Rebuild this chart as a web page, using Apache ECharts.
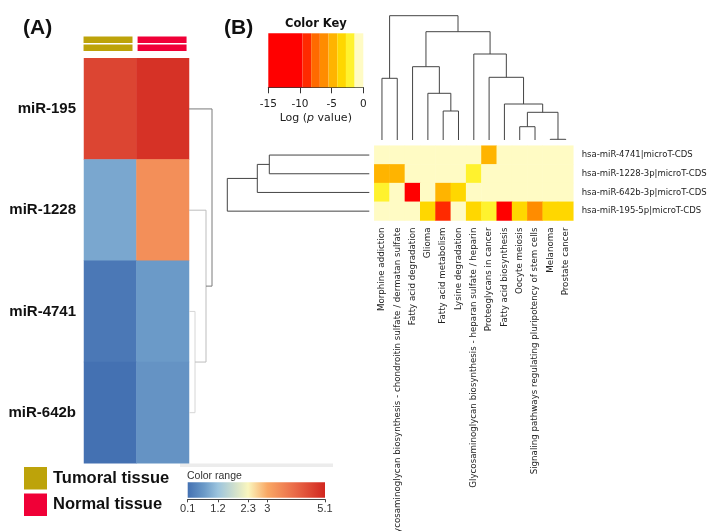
<!DOCTYPE html>
<html><head><meta charset="utf-8">
<script src="https://cdn.jsdelivr.net/npm/echarts@6/dist/echarts.min.js"></script>
<style>html,body{margin:0;padding:0;background:#fff}#c{width:721px;height:531px}</style>
</head><body><div id="c"></div>
<script>
// ================= Panel A data =================
const tissues = ['Tumoral tissue', 'Normal tissue'];
const mirnasA = ['miR-195', 'miR-1228', 'miR-4741', 'miR-642b'];
const tumoralValues = [4.6, 0.85, 0.2, 0.1];
const normalValues = [4.9, 3.4, 0.7, 0.6];
// hclust-style merges: [childA, childB, height]; negative = leaf (1-based), positive = earlier merge
const rowMergeA = [[-3, -4, 0.6], [-2, 1, 1.7], [-1, 2, 2.3]];
const colorRangeMin = 0.1;
const colorRangeMax = 5.1;
const colorRangeTicks = [0.1, 1.2, 2.3, 3, 5.1];

// ================= Panel B data =================
const pathways = [
  'Morphine addiction',
  'Glycosaminoglycan biosynthesis - chondroitin sulfate / dermatan sulfate',
  'Fatty acid degradation',
  'Glioma',
  'Fatty acid metabolism',
  'Lysine degradation',
  'Glycosaminoglycan biosynthesis - heparan sulfate / heparin',
  'Proteoglycans in cancer',
  'Fatty acid biosynthesis',
  'Oocyte meiosis',
  'Signaling pathways regulating pluripotency of stem cells',
  'Melanoma',
  'Prostate cancer'
];
const mirnasB = ['hsa-miR-4741|microT-CDS', 'hsa-miR-1228-3p|microT-CDS', 'hsa-miR-642b-3p|microT-CDS', 'hsa-miR-195-5p|microT-CDS'];
const logP_4741 = [0, 0, 0, 0, 0, 0, 0, -4.8, 0, 0, 0, 0, 0];
const logP_1228 = [-4.9, -4.7, 0, 0, 0, 0, -2.1, 0, 0, 0, 0, 0, 0];
const logP_642b = [-2.2, 0, -11.5, 0, -4.9, -3.5, 0, 0, 0, 0, 0, 0, 0];
const logP_195 = [0, 0, 0, -3.3, -8.9, 0, -3.6, -2.3, -12.8, -3.4, -6.3, -3.2, -3.1];
const rowMergeB = [[-1, -2, 100], [1, -3, 112], [2, -4, 142]];
const colMergeB = [
  [-12, -13, 0.7], [-10, -11, 13.3], [2, 1, 27.7], [-5, -6, 29], [-9, 3, 36],
  [-4, 4, 46.7], [-8, 5, 62.7], [-1, -2, 61.7], [-3, 6, 73.3], [-7, 7, 86],
  [9, 10, 108.3], [8, 11, 124.3]
];
const keyBreaks = [-15, -9.6, -8.23, -6.86, -5.49, -4.11, -2.74, -1.37, 0];
const keyTicks = [-15, -10, -5, 0];

// ================= styles =================
const keyColors = ['#FF0000', '#FF2A00', '#FF6A00', '#FF8C00', '#FFB400', '#FFD700', '#FFF22E', '#FFFBC4'];
const rangeStops = [[0.1, '#4471B2'], [0.7, '#6B9AC8'], [1.2, '#9CC4DE'], [2.3, '#FAF6BE'], [3.0, '#F9A865'], [4.0, '#EA6A48'], [5.1, '#D1261F']];
const tissueColors = ['#BDA30A', '#F00037'];
const fontA = 'Liberation Sans';
const fontB = 'DejaVu Sans';

function hex2rgb(h) { return [parseInt(h.substr(1, 2), 16), parseInt(h.substr(3, 2), 16), parseInt(h.substr(5, 2), 16)]; }
function colorAt(v) {
  for (let i = 0; i < rangeStops.length - 1; i++) {
    const [v0, c0] = rangeStops[i], [v1, c1] = rangeStops[i + 1];
    if (v <= v1 || i === rangeStops.length - 2) {
      const t = Math.max(0, Math.min(1, (v - v0) / (v1 - v0)));
      const a = hex2rgb(c0), b = hex2rgb(c1);
      return 'rgb(' + a.map((x, k) => Math.round(x + (b[k] - x) * t)).join(',') + ')';
    }
  }
}
const sampled = [];
for (let i = 0; i <= 50; i++) sampled.push(colorAt(colorRangeMin + (colorRangeMax - colorRangeMin) * i / 50));
const gradStops = rangeStops.map(([v, c]) => ({ offset: (v - colorRangeMin) / (colorRangeMax - colorRangeMin), color: c }));

function dendroLayout(merges) {
  const nodes = [];
  const get = id => id < 0 ? { pos: -id - 1, h: 0 } : nodes[id - 1];
  merges.forEach(([a, b, h]) => {
    const A = get(a), B = get(b);
    nodes.push({ pos: (A.pos + B.pos) / 2, h: h, a: A, b: B });
  });
  return nodes;
}
function dendroRender(nodes, orient, colorFn) {
  return function (params, api) {
    const k = api.value(0);
    const n = nodes[k];
    const pt = (pos, h) => orient === 'col' ? api.coord([pos, h]) : api.coord([h, pos]);
    return {
      type: 'polyline',
      shape: { points: [pt(n.a.pos, n.a.h), pt(n.a.pos, n.h), pt(n.b.pos, n.h), pt(n.b.pos, n.b.h)] },
      style: { stroke: colorFn(k, nodes.length), lineWidth: 1, fill: null }
    };
  };
}
const nodesA = dendroLayout(rowMergeA);
const nodesBr = dendroLayout(rowMergeB);
const nodesBc = dendroLayout(colMergeB);

// heatmap data
const heatA = [];
mirnasA.forEach((m, r) => { heatA.push([0, r, tumoralValues[r]]); heatA.push([1, r, normalValues[r]]); });
const heatB = [];
[logP_4741, logP_1228, logP_642b, logP_195].forEach((row, r) => row.forEach((v, c) => heatB.push([c, r, v])));
const keyPieces = [];
for (let i = 0; i < keyBreaks.length - 1; i++) keyPieces.push([keyBreaks[i], keyBreaks[i + 1], i]);
const vmPieces = keyPieces.map(([lo, hi, i]) => i === keyPieces.length - 1 ? { gte: lo, lte: hi, color: keyColors[i] } : { gte: lo, lt: hi, color: keyColors[i] });

const hidden = { show: false };
const G = (o) => Object.assign({ outerBoundsMode: 'none', containLabel: false }, o);
const chart = echarts.init(document.getElementById('c'), null, { renderer: 'canvas' });
chart.setOption({
  backgroundColor: '#fff',
  animation: false,
  title: [
    { text: '(A)', left: 23, top: 18, padding: 0, textStyle: { fontFamily: fontA, fontWeight: 'bold', fontSize: 21, color: '#111' } },
    { text: '(B)', left: 224, top: 18, padding: 0, textStyle: { fontFamily: fontA, fontWeight: 'bold', fontSize: 21, color: '#111' } },
    { text: 'Color Key', left: 285, top: 18, padding: 0, textStyle: { fontFamily: fontB, fontWeight: 'bold', fontSize: 11.5, color: '#111' } },
    { text: 'Color range', left: 187, top: 470.5, padding: 0, textStyle: { fontFamily: fontA, fontWeight: 'normal', fontSize: 10.5, color: '#333' } }
  ],
  legend: {
    data: tissues, icon: 'rect', orient: 'vertical', left: 24, top: 467, padding: 0,
    itemWidth: 23, itemHeight: 22.5, itemGap: 4, selectedMode: false,
    textStyle: { fontFamily: fontA, fontWeight: 'bold', fontSize: 16.5, color: '#111', padding: [0, 0, 0, 1] }
  },
  graphic: [{ type: 'rect', shape: { x: 180, y: 463.5, width: 153, height: 3.5 }, style: { fill: '#ececec' }, silent: true }],
  visualMap: [
    { type: 'continuous', show: false, seriesIndex: 0, dimension: 2, min: colorRangeMin, max: colorRangeMax, inRange: { color: sampled } },
    { type: 'piecewise', show: false, seriesIndex: 5, dimension: 2, pieces: vmPieces }
  ],
  grid: [
    G({ left: 84, top: 58.3, width: 105, height: 405 }),          // 0 heatmap A
    G({ left: 81, top: 35.7, width: 108.1, height: 16 }),         // 1 tissue bars
    G({ left: 189, top: 58.3, width: 25, height: 405 }),          // 2 dendro A
    G({ left: 187.7, top: 482.3, width: 137.3, height: 17 }),     // 3 color range
    G({ left: 374.3, top: 145.7, width: 199, height: 74.8 }),     // 4 heatmap B
    G({ left: 227.3, top: 145.7, width: 142, height: 74.8 }),     // 5 row dendro B
    G({ left: 374.3, top: 15.7, width: 199, height: 124.3 }),     // 6 col dendro B
    G({ left: 268.3, top: 33.3, width: 95, height: 54 })          // 7 color key B
  ],
  xAxis: [
    { gridIndex: 0, type: 'category', data: tissues, show: false },
    { gridIndex: 1, type: 'category', data: [0, 1], show: false },
    { gridIndex: 2, type: 'value', min: 0, max: 2.5, show: false },
    { gridIndex: 3, type: 'value', min: colorRangeMin, max: colorRangeMax, splitLine: hidden,
      axisLine: { show: true, onZero: false, lineStyle: { color: '#444' } },
      axisTick: { show: true, length: 3, customValues: colorRangeTicks, lineStyle: { color: '#444' } },
      axisLabel: { customValues: colorRangeTicks, margin: 4, fontFamily: fontA, fontSize: 11, color: '#333' } },
    { gridIndex: 4, type: 'category', data: pathways, axisLine: hidden, axisTick: hidden, splitLine: hidden,
      axisLabel: { interval: 0, rotate: 90, margin: 7, fontFamily: fontB, fontSize: 8.7, color: '#222' } },
    { gridIndex: 5, type: 'value', min: 0, max: 142, inverse: true, show: false },
    { gridIndex: 6, type: 'value', min: -0.5, max: 12.5, show: false },
    { gridIndex: 7, type: 'value', min: -15, max: 0, interval: 5, splitLine: hidden,
      axisLine: { show: true, onZero: false, lineStyle: { color: '#333' } },
      axisTick: { show: true, length: 6, lineStyle: { color: '#333' } },
      axisLabel: { margin: 11, fontFamily: fontB, fontSize: 10.5, color: '#222' },
      name: 'Log ({i|p} value)', nameLocation: 'middle', nameGap: 25,
      nameTextStyle: { fontFamily: fontB, fontSize: 11, color: '#222', rich: { i: { fontFamily: fontB, fontSize: 11, fontStyle: 'italic', color: '#222' } } } }
  ],
  yAxis: [
    { gridIndex: 0, type: 'category', data: mirnasA, inverse: true, axisLine: hidden, axisTick: hidden, splitLine: hidden,
      axisLabel: { margin: 8, fontFamily: fontA, fontWeight: 'bold', fontSize: 15, color: '#111' } },
    { gridIndex: 1, type: 'category', data: [0, 1], inverse: true, show: false },
    { gridIndex: 2, type: 'value', min: -0.5, max: 3.5, inverse: true, show: false },
    { gridIndex: 3, type: 'value', min: 0, max: 1, show: false },
    { gridIndex: 4, type: 'category', data: mirnasB, inverse: true, position: 'right', axisLine: hidden, axisTick: hidden, splitLine: hidden,
      axisLabel: { interval: 0, margin: 8.4, fontFamily: fontB, fontSize: 8.5, color: '#222' } },
    { gridIndex: 5, type: 'value', min: -0.5, max: 3.5, inverse: true, show: false },
    { gridIndex: 6, type: 'value', min: 0, max: 124.3, show: false },
    { gridIndex: 7, type: 'value', min: 0, max: 1, show: false }
  ],
  series: [
    { type: 'heatmap', xAxisIndex: 0, yAxisIndex: 0, data: heatA, silent: true, emphasis: { disabled: true } },
    { type: 'custom', name: tissues[0], xAxisIndex: 1, yAxisIndex: 1, itemStyle: { color: tissueColors[0] }, silent: true,
      data: [[0, 0], [0, 1]],
      renderItem: (p, api) => { const c = api.coord([api.value(0), api.value(1)]); const s = api.size([1, 1]); const w = s[0] * 0.906, h = s[1] * 0.83;
        return { type: 'rect', shape: { x: c[0] - w / 2, y: c[1] - h / 2, width: w, height: h }, style: { fill: api.visual('color') } }; } },
    { type: 'custom', name: tissues[1], xAxisIndex: 1, yAxisIndex: 1, itemStyle: { color: tissueColors[1] }, silent: true,
      data: [[1, 0], [1, 1]],
      renderItem: (p, api) => { const c = api.coord([api.value(0), api.value(1)]); const s = api.size([1, 1]); const w = s[0] * 0.906, h = s[1] * 0.83;
        return { type: 'rect', shape: { x: c[0] - w / 2, y: c[1] - h / 2, width: w, height: h }, style: { fill: api.visual('color') } }; } },
    { type: 'custom', xAxisIndex: 2, yAxisIndex: 2, silent: true, data: nodesA.map((n, k) => [k, 0]),
      renderItem: dendroRender(nodesA, 'row', (k, n) => k === n - 1 ? '#7a7a7a' : (k === 0 ? '#d6d6d6' : '#bdbdbd')) },
    { type: 'custom', xAxisIndex: 3, yAxisIndex: 3, silent: true, data: [[colorRangeMin, colorRangeMax]],
      renderItem: (p, api) => { const a = api.coord([api.value(0), 1]); const b = api.coord([api.value(1), 0.09]);
        return { type: 'rect', shape: { x: a[0], y: a[1], width: b[0] - a[0], height: b[1] - a[1] },
          style: { fill: new echarts.graphic.LinearGradient(0, 0, 1, 0, gradStops) } }; } },
    { type: 'heatmap', xAxisIndex: 4, yAxisIndex: 4, data: heatB, silent: true, emphasis: { disabled: true } },
    { type: 'custom', xAxisIndex: 5, yAxisIndex: 5, silent: true, data: nodesBr.map((n, k) => [k, 0]),
      renderItem: dendroRender(nodesBr, 'row', () => '#444') },
    { type: 'custom', xAxisIndex: 6, yAxisIndex: 6, silent: true, data: nodesBc.map((n, k) => [k, 0]),
      renderItem: dendroRender(nodesBc, 'col', () => '#444') },
    { type: 'custom', xAxisIndex: 7, yAxisIndex: 7, silent: true, data: keyPieces,
      renderItem: (p, api) => { const a = api.coord([api.value(0), 1]); const b = api.coord([api.value(1), 0]);
        return { type: 'rect', shape: { x: a[0], y: a[1], width: b[0] - a[0], height: b[1] - a[1] }, style: { fill: keyColors[api.value(2)] } }; } }
  ]
});
</script>
</body></html>
